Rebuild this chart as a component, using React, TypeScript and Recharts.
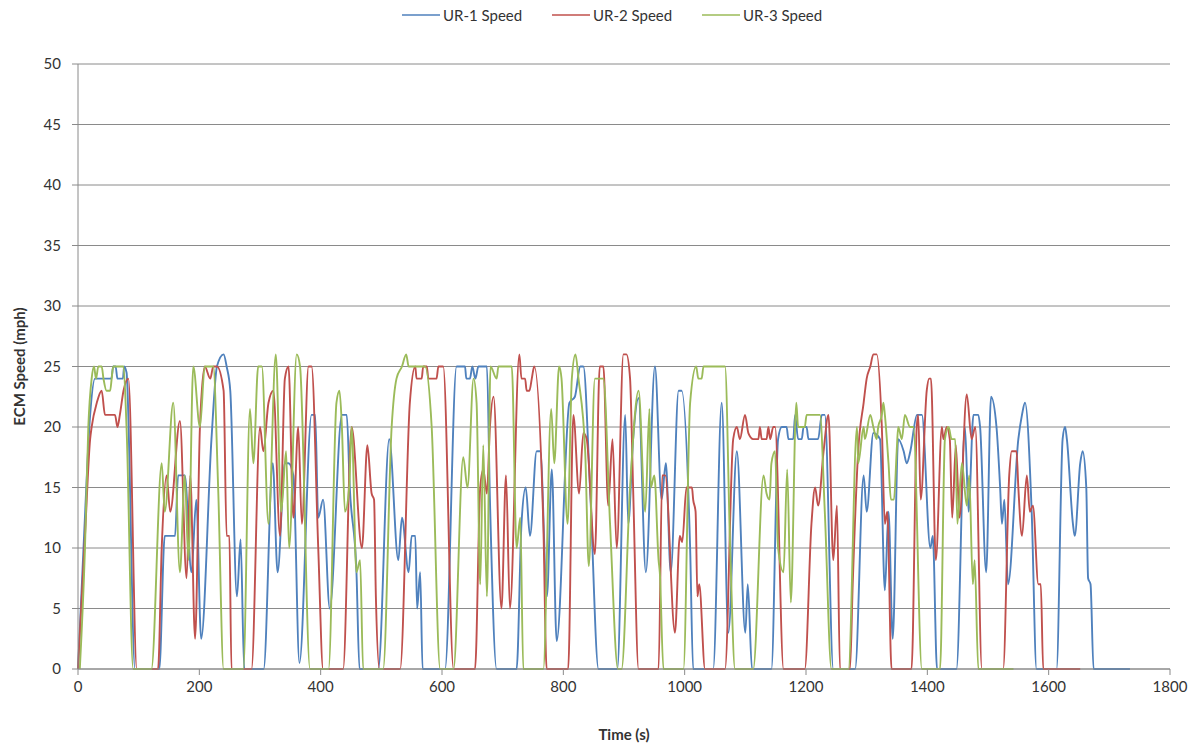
import { LineChart, Line, XAxis, YAxis, CartesianGrid } from 'recharts';

// time (s) / ECM speed (mph) samples per vehicle
const ur1: [number, number][] = [
  [0, 0], [10, 11], [20, 21], [28, 24], [55, 24], [58, 25], [62, 25], [65, 24], [74, 24], [76, 25], [80, 24.5], [94, 0],
  [134, 0], [143, 11], [160, 11], [165, 16], [176, 16], [187, 8], [195, 14], [203, 2.5], [220, 19], [229, 25], [240, 26],
  [245, 25], [251, 23], [262, 6], [268, 10.7], [274, 0], [306, 0], [321, 17], [329, 8], [341, 17], [347, 17], [355, 16],
  [365, 0.5], [385, 21], [391, 21], [396, 12.5], [404, 14], [415, 5], [435, 21], [443, 21], [448, 15], [459, 8], [464, 0],
  [495, 0], [513, 19], [528, 9], [534, 12.5], [545, 8], [550, 11], [556, 11], [559, 5], [564, 8], [568, 0], [605, 0],
  [624, 25], [638, 25], [640, 24], [646, 24], [650, 25], [655, 24], [660, 25], [674, 25], [679, 14], [690, 0], [723, 0],
  [731, 12], [738, 15], [745, 11], [756, 18], [762, 18], [773, 6], [781, 16.5], [789, 2.3], [810, 22], [819, 22.5],
  [828, 25], [833, 25], [844, 15], [858, 0], [889, 0], [902, 21], [907, 12], [915, 19], [924, 22.4], [936, 8], [951, 25],
  [962, 14], [969, 17], [977, 8], [990, 23], [995, 23], [1009, 10], [1014, 0], [1047, 0], [1061, 22], [1072, 3],
  [1086, 18], [1100, 3], [1104, 7], [1111, 0], [1143, 0], [1154, 19], [1160, 20], [1168, 20], [1171, 19], [1179, 19],
  [1182, 21], [1187, 19], [1193, 19], [1196, 20], [1201, 20], [1204, 19], [1220, 19], [1226, 21], [1231, 21], [1245, 0],
  [1281, 0], [1295, 16], [1300, 13], [1311, 19.5], [1322, 19], [1330, 6.5], [1336, 13], [1343, 2.5], [1352, 19],
  [1361, 18], [1366, 17], [1372, 18], [1383, 21], [1391, 21], [1405, 10], [1409, 11], [1416, 0], [1448, 0], [1462, 20],
  [1468, 13], [1476, 21], [1484, 21], [1487, 20], [1497, 8], [1505, 22.5], [1514, 20], [1520, 15], [1523, 12], [1527, 14],
  [1533, 7], [1550, 19], [1556, 21], [1561, 22], [1572, 13], [1580, 0], [1613, 0], [1623, 19], [1627, 20], [1630, 19],
  [1640, 12], [1643, 11], [1652, 17], [1656, 18], [1662, 15], [1665, 7.5], [1669, 7], [1674, 0], [1734, 0],
];

const ur2: [number, number][] = [
  [0, 0], [11.5, 11], [20, 19], [22.5, 20], [31, 22], [39, 23], [44.5, 21], [61, 21], [65, 20], [69, 21], [75, 23], [83, 24],
  [97, 0], [132, 0], [138, 10], [146, 16], [152, 13], [168, 20.5], [179, 7.5], [185, 16], [193, 2.5], [201, 20], [209, 25],
  [218, 24], [223, 25], [229, 25], [240, 23], [245, 11], [249.5, 11], [253, 0], [286, 0], [300, 20], [305.5, 18], [314, 22],
  [322, 23], [333, 11], [341, 24], [347, 25], [355, 12.5], [363, 20], [369, 12], [380, 25], [385, 25], [396, 10], [404, 0],
  [437, 0], [451, 20], [468, 10], [477, 18.5], [484, 14.5], [488, 14], [491, 6], [497, 0], [531, 0], [547, 22], [556, 25],
  [558, 24], [566.5, 24], [569, 25], [575, 25], [577.5, 24], [591, 24], [594, 25], [602, 25], [619, 0], [654.5, 0],
  [663, 15], [668, 16.5], [674, 14.5], [679, 20], [685, 22.5], [698, 5], [705.5, 16], [712, 5], [727.5, 26], [731, 24],
  [737, 24], [739.5, 23], [744, 23], [748, 24], [752, 25], [767, 12], [772.5, 0], [808, 0], [816.5, 21], [826, 14.5],
  [833, 19.5], [838.5, 19], [852, 9.5], [860, 25], [866, 25], [874, 13.5], [881, 19], [888, 10], [899, 26], [904, 26],
  [910, 24], [915, 15], [924, 0], [957, 0], [963, 16], [968, 16], [984, 3], [992, 11], [996, 10.5], [1003, 15], [1012, 15],
  [1014, 14], [1018, 13], [1021, 6], [1024, 7], [1033.5, 0], [1066.5, 0], [1080, 19], [1086, 20], [1091, 19], [1099.5, 21],
  [1105, 19.5], [1113, 19], [1121.5, 19], [1124, 20], [1127, 19], [1135, 19], [1138, 20], [1141, 19], [1146, 20],
  [1149, 20], [1163, 0], [1198, 0], [1209, 12], [1215, 15], [1220, 13.5], [1229, 18], [1237, 21], [1245, 9], [1251, 13.5],
  [1256, 0], [1272.5, 0], [1277, 7], [1286, 18], [1295, 22], [1300, 24], [1306, 25], [1311, 26], [1316.5, 26], [1325, 20],
  [1330, 12], [1334, 13], [1341, 0], [1374, 0], [1382.5, 20], [1385, 21], [1389, 14], [1399, 23], [1403, 24], [1406, 24],
  [1414, 9], [1424, 20], [1426.5, 19], [1432, 20], [1437, 19], [1441, 12.5], [1447, 18.5], [1453, 12.5], [1465, 22.7],
  [1473, 19], [1479, 20], [1490, 0], [1525, 0], [1535, 16], [1539, 18], [1547, 18], [1550, 15], [1556, 11], [1564, 16],
  [1569, 13], [1574, 13.5], [1583, 7], [1587, 7], [1591, 0], [1652, 0],
];

const ur3: [number, number][] = [
  [3, 0], [11.5, 10], [17, 20], [22.5, 24], [26.4, 25], [29.7, 24], [33.5, 25], [39, 25], [42, 24], [47, 23], [53, 23],
  [55.5, 24], [58, 25], [75, 25], [80, 20], [91, 0], [121, 0], [138, 17], [143, 13], [157, 22], [168, 8], [176, 16],
  [182, 9], [190, 25], [201, 20], [209, 25], [223, 25], [231, 15], [240, 0], [272.5, 0], [283.5, 21.5], [289, 17], [297, 25],
  [303, 25], [314, 12], [326, 26], [335, 13], [343, 18], [348, 10], [360.5, 26], [366, 25], [382.5, 0], [413, 0], [426, 22],
  [431, 23], [435, 20], [440, 13], [447, 15], [451, 20], [459, 8], [465, 9], [470, 0], [503, 0], [517, 20], [525, 24],
  [534, 25], [541, 26], [545, 25], [572, 25], [583, 20], [597, 0], [619, 0], [635, 17.5], [642, 15], [652, 24], [657, 22],
  [663, 7], [668, 18.5], [674, 6], [680, 25], [690, 24], [693, 25], [715, 25], [723, 10], [729, 12.5], [734, 0], [767, 0],
  [780, 21.5], [785, 17], [793, 25], [797, 24], [807, 12], [814, 24], [820, 26], [825, 24], [836, 18], [842, 8.5], [852, 24],
  [866, 24], [877, 12], [890, 0], [896, 0], [910, 15], [924, 23], [935, 13], [942, 21.5], [944, 15], [950, 16], [957, 9],
  [959, 8], [965, 0], [998, 0], [1009, 22], [1019, 25], [1022.5, 24], [1028, 24], [1031, 25], [1066.5, 25], [1075, 10],
  [1083, 0], [1113, 0], [1130, 16], [1135, 14.5], [1140, 14], [1143, 17], [1149, 18], [1154, 10], [1163, 8], [1169, 16.5],
  [1175, 5.5], [1184, 22], [1187, 20], [1198, 20], [1201, 21], [1223, 21], [1231, 13], [1242, 0], [1270, 0], [1284, 20],
  [1286, 17], [1295, 20], [1297, 19], [1306, 21], [1311, 20], [1316.5, 19], [1319, 20], [1325, 21], [1327.5, 22],
  [1330, 21], [1336, 17], [1340, 14], [1345, 14], [1349.5, 18], [1352, 20], [1358, 19], [1363, 21], [1371.5, 20],
  [1377, 20], [1391, 0], [1421, 0], [1429, 19], [1435, 20], [1440, 19], [1446, 19], [1449.5, 12], [1457, 17], [1465, 13.5],
  [1469, 16], [1475, 7], [1478, 9], [1484, 0], [1542, 0],
];

const timeTicks = [0, 200, 400, 600, 800, 1000, 1200, 1400, 1600, 1800];
const speedTicks = [0, 5, 10, 15, 20, 25, 30, 35, 40, 45, 50];

const toRows = (pts: [number, number][]) => pts.map(([t, v]) => ({ t, v }));

const series = [
  { name: 'UR-1 Speed', color: '#4f81bd', rows: toRows(ur1), left: 402 },
  { name: 'UR-2 Speed', color: '#c0504d', rows: toRows(ur2), left: 552 },
  { name: 'UR-3 Speed', color: '#9bbb59', rows: toRows(ur3), left: 702 },
];

const FONT = 'Lato, "Open Sans", sans-serif';
const GRID = '#8a8a8a';
const TEXT = '#333';

export default function App() {
  return (
    <div style={{ position: 'absolute', left: 0, top: 0, width: 1202, height: 749, background: '#fff', fontFamily: FONT }}>
      {series.map((s) => (
        <div
          key={s.name}
          style={{ position: 'absolute', top: 5, left: s.left, height: 20, display: 'flex', alignItems: 'center', fontSize: 15, color: TEXT }}
        >
          <svg width={38} height={4}>
            <line x1={0} y1={2} x2={38} y2={2} stroke={s.color} strokeWidth={1.5} />
          </svg>
          <span style={{ marginLeft: 3 }}>{s.name}</span>
        </div>
      ))}
      <LineChart width={1202} height={749} margin={{ top: 64, right: 32, bottom: 0, left: 0 }} style={{ fontFamily: FONT }}>
        <CartesianGrid vertical={false} stroke={GRID} strokeWidth={1} />
        <XAxis
          type="number"
          dataKey="t"
          domain={[0, 1800]}
          ticks={timeTicks}
          allowDuplicatedCategory={false}
          height={80}
          stroke={GRID}
          tickSize={6}
          tickMargin={6}
          tick={{ fill: TEXT, fontSize: 15 }}
          label={{ value: 'Time (s)', position: 'insideBottom', offset: 9, style: { fill: TEXT, fontSize: 15, fontWeight: 700 } }}
        />
        <YAxis
          type="number"
          domain={[0, 50]}
          ticks={speedTicks}
          width={78}
          stroke={GRID}
          tickSize={6}
          tickMargin={11}
          tick={{ fill: TEXT, fontSize: 15 }}
          label={{
            value: 'ECM Speed (mph)',
            angle: -90,
            position: 'insideLeft',
            offset: 20,
            style: { fill: TEXT, fontSize: 15, fontWeight: 700, textAnchor: 'middle' },
          }}
        />
        {series.map((s) => (
          <Line
            key={s.name}
            data={s.rows}
            dataKey="v"
            name={s.name}
            type="monotone"
            stroke={s.color}
            strokeWidth={1.9}
            dot={false}
            activeDot={false}
            isAnimationActive={false}
          />
        ))}
      </LineChart>
    </div>
  );
}
